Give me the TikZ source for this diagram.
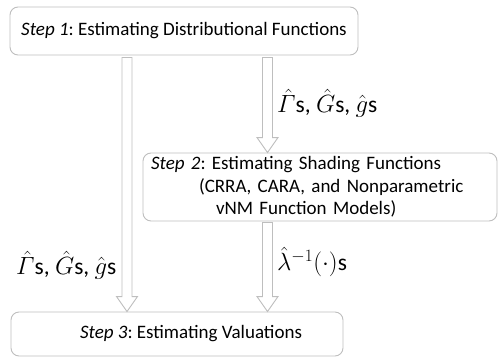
\documentclass[tikz,border=0pt]{standalone}
\usepackage{amsmath}
\usepackage{fontspec}
\setmainfont{Carlito}
\usetikzlibrary{calc}
\definecolor{edge}{RGB}{190,190,190}
\frenchspacing
\tikzset{
  stepbox/.style={draw=edge, line width=0.9pt, rounded corners=8pt, fill=white, inner sep=0pt,
    font=\fontsize{19}{22.5}\selectfont},
  lbl/.style={inner sep=0pt, anchor=west, font=\fontsize{23.5}{27}\selectfont},
  blockarrow/.style={draw=edge, line width=0.9pt, fill=white,
    to path={let \p1=(\tikztostart), \p2=(\tikztotarget) in
      (\x1-5pt,\y1) -- (\x1-5pt,\y2+15pt) -- (\x1-10.5pt,\y2+15pt) -- (\x1,\y2)
      -- (\x1+10.5pt,\y2+15pt) -- (\x1+5pt,\y2+15pt) -- (\x1+5pt,\y1) -- cycle}}
}
\begin{document}
\begin{tikzpicture}[x=1pt,y=-1pt]
\useasboundingbox (0,0) rectangle (499,357);
\node[stepbox, minimum width=348pt, minimum height=48pt] (s1) at (184,31)
  {\textit{Step 1}: Estimating Distributional Functions};
\node[stepbox, minimum width=354pt, minimum height=68pt, text width=338pt, align=left, inner xsep=8pt] (s2) at (320,187)
  {\textit{Step 2}: Estimating Shading Functions\\
   \hspace*{48pt}(CRRA, CARA, and Nonparametric\\
   \hspace*{65pt}vNM Function Models)};
\node[stepbox, minimum width=332pt, minimum height=44pt] (s3) at (177,334)
  {\hspace*{28pt}\textit{Step 3}: Estimating Valuations};
\coordinate (L) at (127,0);
\coordinate (R) at (267.5,0);
\draw[blockarrow] ($(s1.south -| L)+(0,2)$) to (s3.north -| L);
\draw[blockarrow] ($(s1.south -| R)+(0,2)$) to (s2.north -| R);
\draw[blockarrow] ($(s2.south -| R)+(0,1)$) to (s3.north -| R);
\node[lbl] (g1) at (277,103) {$\hat{\varGamma}$s, $\hat{G}$s, $\hat{g}$s};
\node[lbl] (g2) at (16,265) {$\hat{\varGamma}$s, $\hat{G}$s, $\hat{g}$s};
\node[lbl] (lam) at (277,262) {$\hat{\lambda}^{-1}(\cdot)$s};
\end{tikzpicture}
\end{document}
